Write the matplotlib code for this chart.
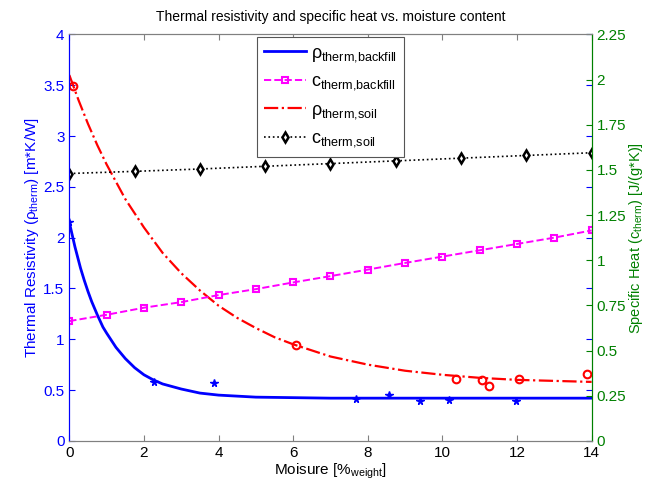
import matplotlib
matplotlib.use("Agg")
import matplotlib.pyplot as plt
import numpy as np

plt.rcParams['font.family'] = ['Liberation Sans', 'DejaVu Sans']
plt.rcParams['mathtext.fontset'] = 'custom'
plt.rcParams['mathtext.rm'] = 'Liberation Sans'
plt.rcParams['font.size'] = 10

# measured points, thermal resistivity [m*K/W]
backfill_x = [0.0, 2.28, 3.88, 7.68, 8.56, 9.39, 10.17, 11.98]
backfill_rho = [2.15, 0.58, 0.57, 0.41, 0.45, 0.39, 0.40, 0.39]
soil_x = [0.1, 6.07, 10.37, 11.07, 11.26, 12.05, 13.88]
soil_rho = [3.49, 0.94, 0.61, 0.60, 0.54, 0.61, 0.66]

# fitted curves
fit_backfill_x = [0, 0.05, 0.1, 0.15, 0.2, 0.25, 0.3, 0.4, 0.5, 0.6, 0.75, 0.9, 1, 1.25, 1.5,
                  1.75, 2, 2.25, 2.5, 3, 3.5, 4, 4.5, 5, 6, 7, 8, 10, 12, 14]
fit_backfill_rho = [2.15, 2.07, 1.99, 1.91, 1.84, 1.77, 1.70, 1.58, 1.47, 1.37, 1.24, 1.12,
                    1.06, 0.92, 0.81, 0.72, 0.65, 0.60, 0.56, 0.51, 0.47, 0.45, 0.44, 0.43,
                    0.425, 0.42, 0.42, 0.42, 0.42, 0.42]
fit_soil_x = [0, 0.25, 0.5, 0.75, 1, 1.5, 2, 2.5, 3, 3.5, 4, 4.5, 5, 5.5, 6, 7, 8, 9, 10,
              11, 12, 13, 14]
fit_soil_rho = [3.60, 3.35, 3.12, 2.91, 2.72, 2.38, 2.10, 1.85, 1.65, 1.48, 1.33, 1.21,
                1.11, 1.02, 0.95, 0.83, 0.75, 0.69, 0.65, 0.62, 0.60, 0.59, 0.58]

# specific heat [J/(g*K)]
cb_x = [0, 1, 2, 3, 4, 5, 6, 7, 8, 9, 10, 11, 12, 13, 14]
cb_val = [0.663, 0.698, 0.737, 0.768, 0.807, 0.840, 0.877, 0.912, 0.948, 0.985,
          1.02, 1.055, 1.09, 1.125, 1.165]
cs_x = [0, 1.75, 3.5, 5.25, 7, 8.75, 10.5, 12.25, 14]
cs_val = [1.48, 1.492, 1.505, 1.52, 1.535, 1.55, 1.565, 1.58, 1.595]

blue = '#0000ff'
green = '#008000'

fig = plt.figure(figsize=(6.48, 4.92), dpi=100)
ax1 = fig.add_axes([0.107, 0.104, 0.806, 0.826])
ax2 = ax1.twinx()

l1, = ax1.plot(fit_backfill_x, fit_backfill_rho, '-', color=blue, lw=2)
ax1.plot(backfill_x, backfill_rho, '*', color=blue, ms=5.5, ls='none')
l3, = ax1.plot(fit_soil_x, fit_soil_rho, '-.', color='red', lw=1.6)
ax1.plot(soil_x, soil_rho, 'o', mfc='none', mec='red', mew=1.5, ms=5.5, ls='none')

l2, = ax2.plot(cb_x, cb_val, '--s', color='magenta', lw=1.4, ms=5, mfc='none', mew=1.5)
l4, = ax2.plot(cs_x, cs_val, ':d', color='black', lw=1.2, ms=5, mfc='white', mew=1.8)

ax1.set_xlim(0, 14)
ax1.set_ylim(0, 4)
ax2.set_ylim(0, 2.25)
ax1.set_xticks(np.arange(0, 15, 2))
ax1.set_yticks(np.arange(0, 4.01, 0.5))
ax1.set_yticklabels(['0', '0.5', '1', '1.5', '2', '2.5', '3', '3.5', '4'])
ax2.set_yticks(np.arange(0, 2.26, 0.25))
ax2.set_yticklabels(['0', '0.25', '0.5', '0.75', '1', '1.25', '1.5', '1.75', '2', '2.25'])

ax1.tick_params(axis='x', direction='in', top=True, colors='black', length=4)
ax1.tick_params(axis='y', direction='in', right=True, colors=blue, length=4, labelsize=11)
ax2.tick_params(axis='y', direction='in', colors=green, length=4, labelsize=11)
ax1.tick_params(axis='x', labelsize=11, color='#808080')

for s in ['top', 'bottom']:
    ax1.spines[s].set_color('#808080')
    ax2.spines[s].set_color('#808080')
ax1.spines['left'].set_color(blue)
ax2.spines['left'].set_color(blue)
ax1.spines['right'].set_color(green)
ax2.spines['right'].set_color(green)

ax1.set_title('Thermal resistivity and specific heat vs. moisture content', fontsize=10, pad=10)
ax1.set_xlabel(r'Moisure [%$_{\mathrm{weight}}$]', fontsize=11, labelpad=1)
ax1.set_ylabel(r'Thermal Resistivity (ρ$_{\mathrm{therm}}$) [m*K/W]', color=blue, fontsize=11, labelpad=2)
ax2.set_ylabel(r'Specific Heat (c$_{\mathrm{therm}}$) [J/(g*K)]', color=green, fontsize=10.5, labelpad=1)

leg = ax2.legend([l1, l2, l3, l4],
                 [r'ρ$_{\mathrm{therm{,}backfill}}$', r'c$_{\mathrm{therm{,}backfill}}$',
                  r'ρ$_{\mathrm{therm{,}soil}}$', r'c$_{\mathrm{therm{,}soil}}$'],
                 loc='upper center', bbox_to_anchor=(0.5, 1.0), borderaxespad=0.15,
                 fontsize=13, fancybox=False, edgecolor='#555555', framealpha=1,
                 handlelength=2.3, labelspacing=0.5, borderpad=0.4, handletextpad=0.3)
leg.get_frame().set_linewidth(0.8)

fig.savefig('out.png', dpi=100)
